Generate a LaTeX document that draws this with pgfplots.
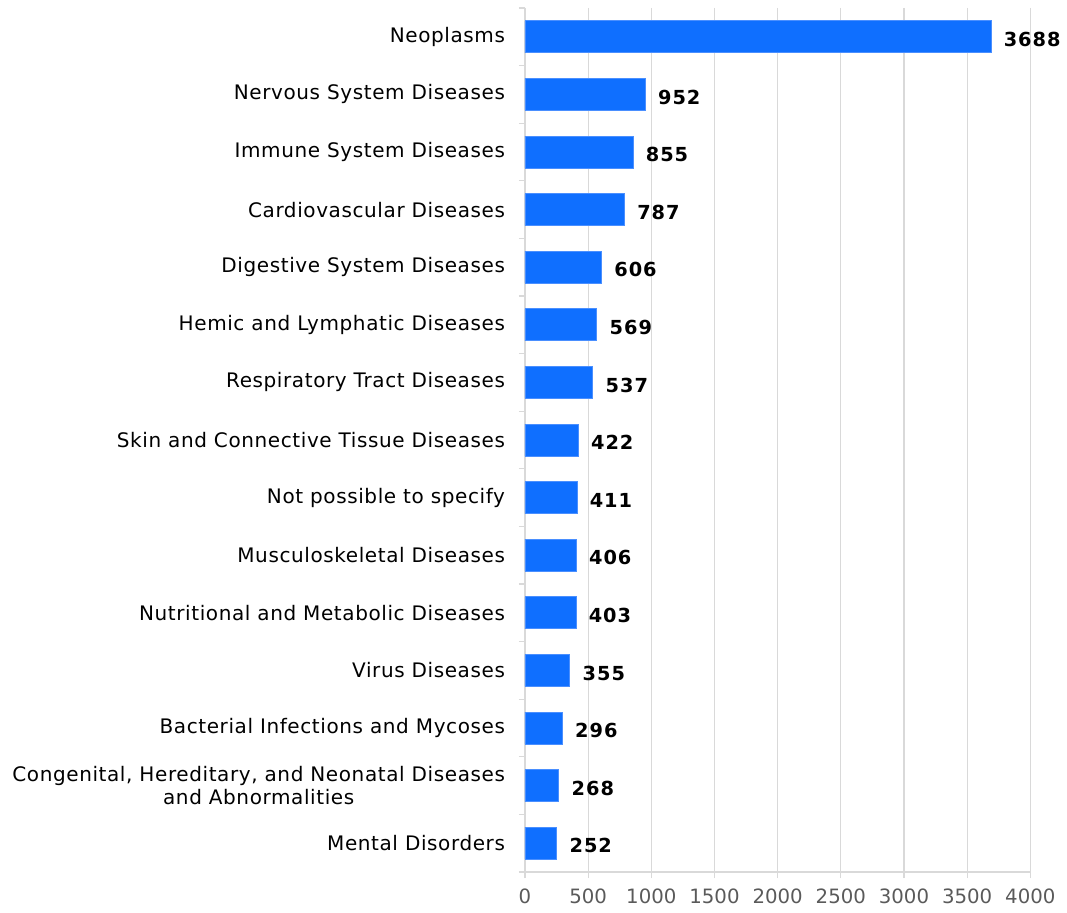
\documentclass[border=0pt]{standalone}
\usepackage{pgfplots}
\pgfplotsset{compat=1.18}
\usepackage{pgfplotstable}
\usepackage{fontspec}
\setmainfont{DejaVu Sans}[LetterSpace=3]
\newfontfamily\valuefont{DejaVu Sans}[LetterSpace=5]
\newfontfamily\tickfont{DejaVu Sans}
\definecolor{barblue}{HTML}{0F6FFF}
\definecolor{baredge}{HTML}{4A8FFF}
\definecolor{gridgray}{HTML}{D9D9D9}
\definecolor{ticktext}{HTML}{5A5A5A}

\pgfplotstableread{
i v
0 3688
1 952
2 855
3 787
4 606
5 569
6 537
7 422
8 411
9 406
10 403
11 355
12 296
13 268
14 252
}\diseases

\begin{document}
\begin{tikzpicture}
\path[use as bounding box] (-393.75pt,-30.75pt) rectangle (406.5pt,654pt);
\begin{axis}[
    at={(0,0)}, anchor=south west,
    scale only axis,
    width=379pt, height=648pt,
    xbar, bar width=24pt,
    xmin=0, xmax=4000,
    ymin=-0.5, ymax=14.5,
    y dir=reverse,
    xtick={0,500,...,4000},
    % ticks sit on the category boundaries, labels are lifted half a row
    ytick={-0.5,0.5,...,14.5},
    yticklabels={{}, Neoplasms, Nervous System Diseases, Immune System Diseases,
      Cardiovascular Diseases, Digestive System Diseases,
      Hemic and Lymphatic Diseases, Respiratory Tract Diseases,
      Skin and Connective Tissue Diseases, Not possible to specify,
      Musculoskeletal Diseases, Nutritional and Metabolic Diseases,
      Virus Diseases, Bacterial Infections and Mycoses,
      {Congenital, Hereditary, and Neonatal Diseases\\and Abnormalities},
      Mental Disorders},
    axis x line*=bottom, axis y line*=left,
    axis line style={gridgray, line width=0.9pt},
    xmajorgrids, grid style={gridgray, line width=0.9pt},
    tick align=outside,
    tick style={gridgray, line width=0.9pt},
    major tick length=4.5pt,
    /pgf/number format/1000 sep={},
    /pgf/number format/assume math mode=true,
    xticklabel style={font=\tickfont\fontsize{14.8}{16}\selectfont, text=ticktext, yshift=-4.5pt},
    yticklabel style={font=\fontsize{15}{17}\selectfont, align=center, text=black, xshift=-7pt, yshift=21.6pt},
    point meta=explicit symbolic,
    nodes near coords,
    nodes near coords style={font=\valuefont\bfseries\fontsize{14.5}{16}\selectfont, anchor=west, xshift=6pt, yshift=-2pt, text=black},
]
\addplot[fill=barblue, draw=baredge, line width=0.6pt] table[x=v, y=i, meta=v] {\diseases};
\end{axis}
\end{tikzpicture}
\end{document}
